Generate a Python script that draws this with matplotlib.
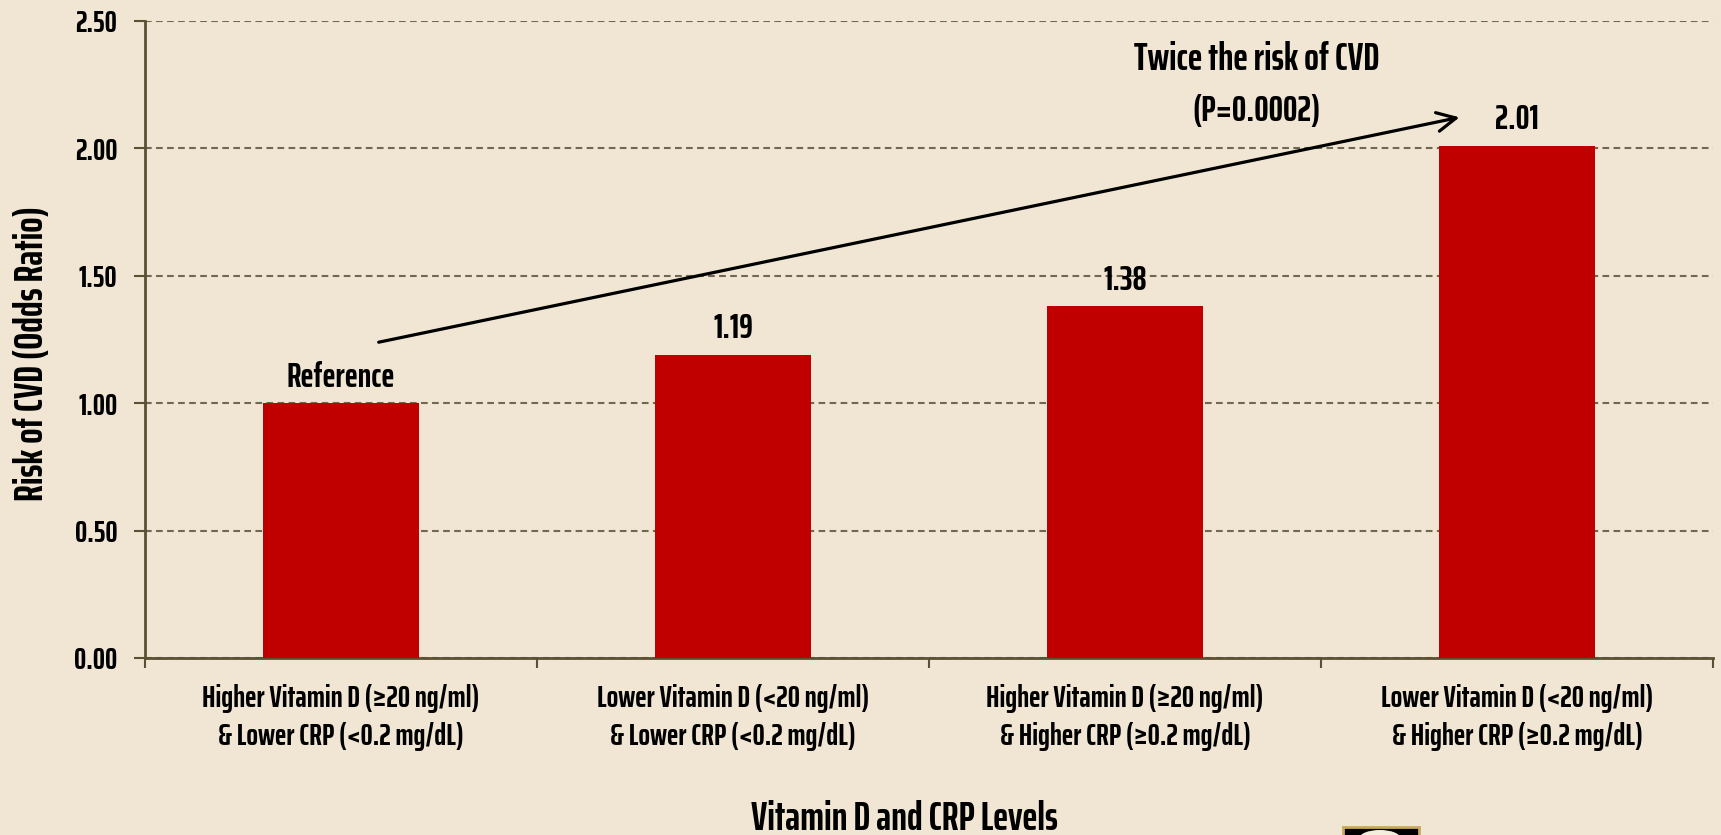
import numpy as np
import matplotlib
matplotlib.use("Agg")
import matplotlib.pyplot as plt
from matplotlib.patches import Rectangle, Ellipse

# Datos del grafico
categorias = [
    "Higher Vitamin D (≥20 ng/ml)\n& Lower CRP (<0.2 mg/dL)",
    "Lower Vitamin D (<20 ng/ml)\n& Lower CRP (<0.2 mg/dL)",
    "Higher Vitamin D (≥20 ng/ml)\n& Higher CRP (≥0.2 mg/dL)",
    "Lower Vitamin D (<20 ng/ml)\n& Higher CRP (≥0.2 mg/dL)",
]
odds_ratio = [1.00, 1.19, 1.38, 2.01]
etiquetas_valor = ["Reference", "1.19", "1.38", "2.01"]
y_ticks = [0.0, 0.5, 1.0, 1.5, 2.0, 2.5]

FONDO = "#F0E6D3"
ROJO = "#C00000"
OLIVA = "#5B5033"
GRID = "#706850"

plt.rcParams["font.family"] = ["Saira ExtraCondensed", "Liberation Sans Narrow", "DejaVu Sans"]
plt.rcParams["font.weight"] = "bold"

fig = plt.figure(figsize=(17.21, 8.35), dpi=100, facecolor=FONDO)
ax = fig.add_axes([0.0843, 0.2120, 0.9111, 0.7629])
ax.set_facecolor(FONDO)

x = np.arange(len(categorias))
ax.bar(x, odds_ratio, width=0.4, color=ROJO, zorder=3)

# Etiquetas encima de las barras
for xi, v, lab in zip(x, odds_ratio, etiquetas_valor):
    ax.annotate(lab, (xi, v), xytext=(0, 12), textcoords="offset points",
                ha="center", va="baseline", fontsize=25, fontweight="bold", color="black")

# Ejes
ax.set_xlim(-0.5, len(categorias) - 0.5)
ax.set_ylim(0, 2.5)
ax.set_yticks(y_ticks)
ax.set_yticklabels([f"{t:.2f}" for t in y_ticks])
ax.yaxis.grid(True, color=GRID, linestyle=(0, (3.2, 2.1)), linewidth=1.5, zorder=0)
ax.set_axisbelow(True)

# ticks mayores en los limites, etiquetas en los menores
ax.set_xticks(np.arange(len(categorias) + 1) - 0.5)
ax.set_xticklabels([])
ax.set_xticks(x, minor=True)
ax.set_xticklabels(categorias, minor=True, fontsize=22, fontweight="bold", linespacing=1.38)
ax.tick_params(axis="x", which="major", length=7, width=1.5, color=OLIVA, direction="out")
ax.tick_params(axis="x", which="minor", length=0, pad=19)
ax.tick_params(axis="y", length=8, width=1.5, color=OLIVA, direction="out", pad=12, labelsize=22)

for s in ["top", "right"]:
    ax.spines[s].set_visible(False)
for s in ["left", "bottom"]:
    ax.spines[s].set_color(OLIVA)
    ax.spines[s].set_linewidth(2)

# Flecha y texto de la anotacion
ax.annotate("", xy=(2.86, 2.124), xytext=(0.089, 1.237),
            arrowprops=dict(arrowstyle="->", lw=2.3, color="black", mutation_scale=34))
ax.text(2.335, 2.348, "Twice the risk of CVD", ha="center", va="center", fontsize=28, fontweight="bold")
ax.text(2.335, 2.145, "(P=0.0002)", ha="center", va="center", fontsize=26, fontweight="bold")

# Titulos de ejes
fig.text(0.5253, 0.006, "Vitamin D and CRP Levels", ha="center", va="baseline",
         fontsize=29, fontweight="bold")
fig.text(0.0184, 0.577, "Risk of CVD (Odds Ratio)", rotation=90, ha="center", va="center",
         fontsize=29, fontweight="bold")

# logo recortado abajo
fig.add_artist(Rectangle((0.7804, -0.01), 0.0442, 0.0196, transform=fig.transFigure,
                         facecolor="black", edgecolor="#C9A860", linewidth=2))
fig.add_artist(Ellipse((0.8018, -0.004), 0.024, 0.02, transform=fig.transFigure,
                       facecolor="#F4EEDC", edgecolor="none"))

fig.savefig("out.png", dpi=100, facecolor=FONDO)
